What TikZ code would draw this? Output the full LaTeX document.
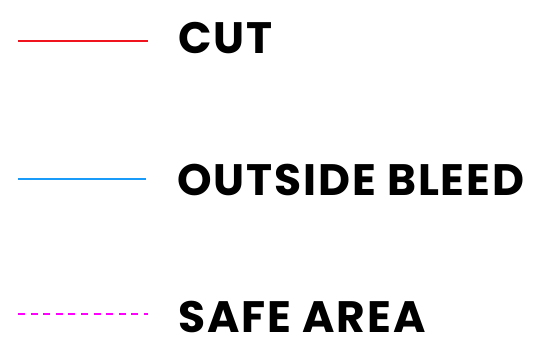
\documentclass[tikz,border=0pt]{standalone}
\usepackage{fontspec}
\setmainfont{Poppins}[BoldFont={* Bold}, LetterSpace=4.3]
\definecolor{cutred}{RGB}{240,20,30}
\definecolor{bleedcyan}{RGB}{25,155,250}
\definecolor{safemag}{RGB}{255,0,255}
\begin{document}
\begin{tikzpicture}[x=1pt,y=-1pt,
  lbl/.style={anchor=base west,inner sep=0pt,font=\fontsize{44}{44}\selectfont\bfseries},
  legline/.style={line width=1.4pt}]
\useasboundingbox (0,0) rectangle (536,341);
\coordinate (c1) at (18,41);
\coordinate (c2) at (148,41);
\draw[legline,draw=cutred] (c1) -- (c2);
\node[lbl] (cut) at (178,53) {CUT};
\coordinate (b1) at (18,179);
\coordinate (b2) at (146,179);
\draw[legline,draw=bleedcyan] (b1) -- (b2);
\node[lbl] (bleed) at (177,195) {OUTSIDE BLEED};
\coordinate (s1) at (18,314);
\coordinate (s2) at (148,314);
\draw[legline,draw=safemag,dash pattern=on 7pt off 5.6pt] (s1) -- (s2);
\node[lbl] (safe) at (178,332) {SAFE AREA};
\end{tikzpicture}
\end{document}
